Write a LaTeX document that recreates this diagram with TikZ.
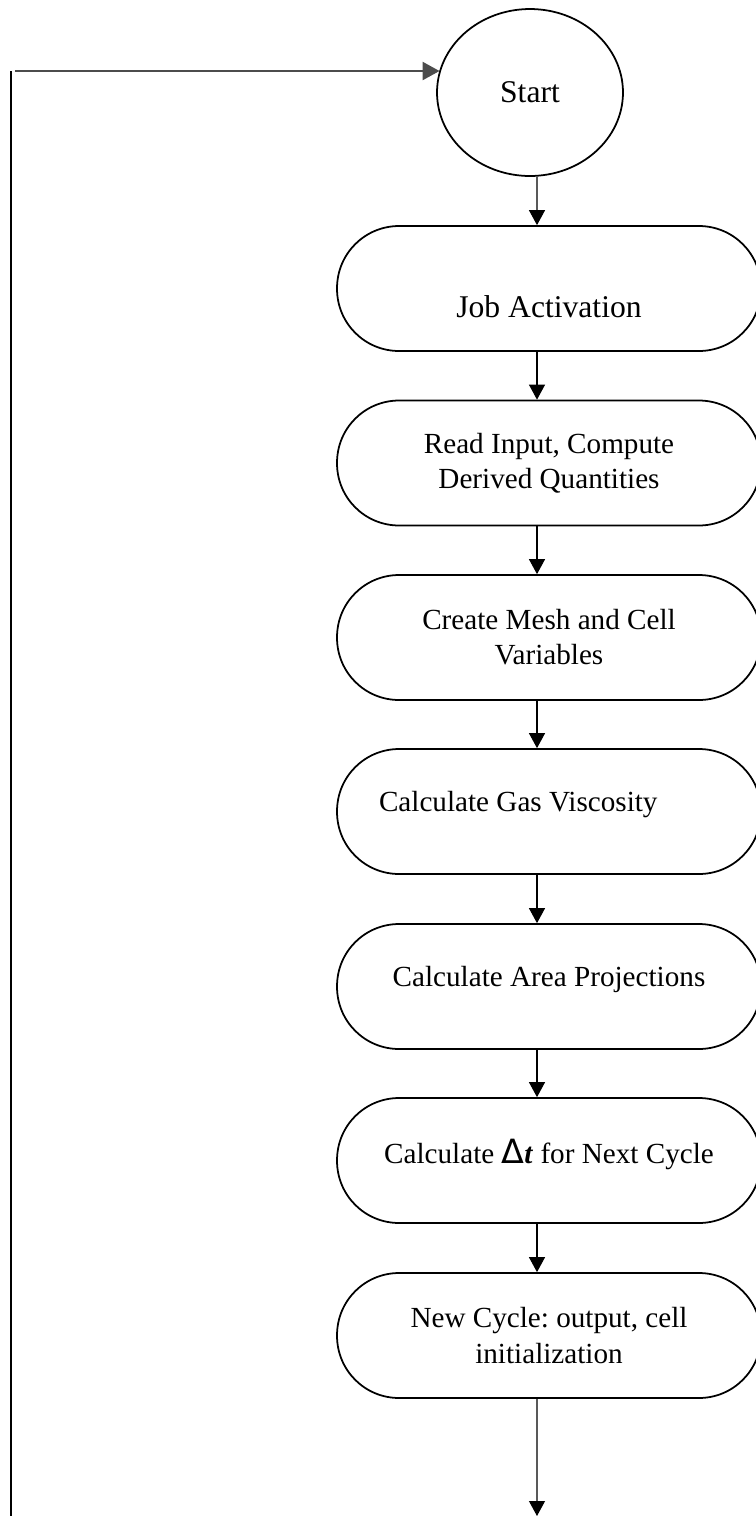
\documentclass[tikz,border=0pt]{standalone}
\usepackage{fontspec}
\setmainfont{Liberation Serif}
\newfontfamily\deltafont{DejaVu Sans}
\frenchspacing
\usepackage{tikz}
\usetikzlibrary{arrows.meta,shapes.geometric}

\begin{document}
\begin{tikzpicture}[x=0.02cm, y=-0.02cm,
  proc/.style={draw, rounded corners=1.24cm, line width=1pt, minimum width=8.48cm, minimum height=2.5cm, inner sep=0pt, align=center, font=\fontsize{16.6pt}{20pt}\selectfont},
  term/.style={draw, ellipse, line width=1pt, minimum width=3.72cm, minimum height=3.34cm, inner sep=0pt, font=\fontsize{18pt}{21pt}\selectfont},
  arr/.style={-{Triangle[length=0.3cm, width=0.32cm]}, line width=0.6pt}]
  \useasboundingbox (0,0) rectangle (756,1516);
  % ---------------- nodes
  \node[term] (start) at (530,92.5) {Start};
  \node[proc, font=\fontsize{18pt}{21pt}\selectfont, text height=1.14cm, text depth=0pt] (job) at (549,288.5) {Job Activation};
  \node[proc] (read) at (549,463) {Read Input, Compute\\Derived Quantities};
  \node[proc] (mesh) at (549,637.5) {Create Mesh and Cell\\Variables};
  \node[proc, text width=6.8cm, align=flush left, text height=0.3cm, text depth=0.313cm] (visc) at (549,811.5) {Calculate Gas Viscosity};
  \node[proc, text height=0.3cm, text depth=0.293cm] (area) at (549,986.5) {Calculate Area Projections};
  \node[proc, text height=0.4cm, text depth=0.273cm] (dt) at (549,1160.5) {Calculate {\deltafont\fontsize{19pt}{21pt}\selectfont Δ}\textbf{\textit{t}} for Next Cycle};
  \node[proc] (cyc) at (549,1335.5) {New Cycle: output, cell\\initialization};
  % ---------------- flow
  \draw[arr] ([xshift=0.14cm]start.south) -- ([xshift=-0.24cm]job.north);
  \foreach \a/\b in {job/read,read/mesh,mesh/visc,visc/area,area/dt,dt/cyc}{
    \draw[arr] ([xshift=-0.24cm]\a.south) -- ([xshift=-0.24cm]\b.north);}
  \coordinate (outpt) at (537,1516);
  \draw[arr] ([xshift=-0.24cm]cyc.south) -- (outpt);
  % ---------------- loop back
  \coordinate (lbot) at (11,1516);
  \coordinate (ltop) at (11,71);
  \draw[line width=0.6pt] (lbot) -- (ltop);
  \draw[-{Triangle[length=0.34cm, width=0.36cm]}, draw=black!70, fill=black, line width=1.3pt] ([xshift=0.08cm]ltop) -- (ltop -| start.166);
\end{tikzpicture}
\end{document}
